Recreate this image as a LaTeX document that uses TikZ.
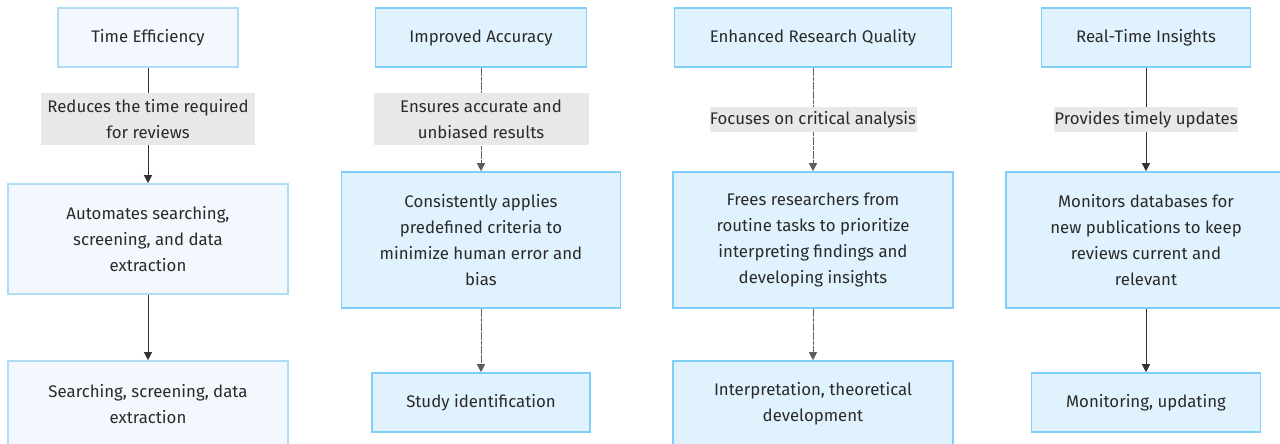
\documentclass[tikz,border=0pt]{standalone}
\usepackage{fontspec}
\setmainfont{Fira Sans}
\usetikzlibrary{arrows.meta}
\definecolor{txt}{HTML}{2A2A2A}
\definecolor{bfillA}{HTML}{F3F7FE}
\definecolor{bdrawA}{HTML}{B0DCF5}
\definecolor{bfillB}{HTML}{E0F2FD}
\definecolor{bdrawB}{HTML}{80CFF8}
\definecolor{lblbg}{HTML}{E8E8E8}
\definecolor{edgec}{HTML}{333333}
\tikzset{
  boxa/.style={draw=bdrawA, fill=bfillA, line width=1.6pt, align=center, inner sep=0pt, text=txt},
  boxb/.style={draw=bdrawB, fill=bfillB, line width=1.6pt, align=center, inner sep=0pt, text=txt},
  lbl/.style={fill=lblbg, align=center, inner sep=0pt, text=txt},
  conn/.style={draw=edgec, line width=1pt, -{Triangle[width=8pt,length=8pt]}},
  connd/.style={draw=edgec!80, line width=1pt, dash pattern=on 4pt off 0.6pt, -{Triangle[width=8pt,length=8pt]}},
}
\begin{document}
\begin{tikzpicture}[x=1pt,y=-1pt, font=\fontsize{16.8}{26}\selectfont]
\useasboundingbox (0,0) rectangle (1280,444);
\fill[white] (0,0) rectangle (1280,444);
% column 1
\node[boxa, minimum width=180pt, minimum height=59pt] (t1) at (148,37.5) {Time Efficiency};
\node[boxa, minimum width=280pt, minimum height=110pt] (m1) at (148,239) {Automates searching,\\screening, and data\\extraction};
\node[boxa, minimum width=280pt, minimum height=86pt] (b1) at (148,404) {Searching, screening, data\\extraction};
% column 2
\node[boxb, minimum width=211pt, minimum height=59pt] (t2) at (481,37.5) {Improved Accuracy};
\node[boxb, minimum width=279pt, minimum height=136pt] (m2) at (481,240) {Consistently applies\\predefined criteria to\\minimize human error and\\bias};
\node[boxb, minimum width=218pt, minimum height=59pt] (b2) at (481,402.5) {Study identification};
% column 3
\node[boxb, minimum width=277pt, minimum height=59pt] (t3) at (813,37.5) {Enhanced Research Quality};
\node[boxb, minimum width=280pt, minimum height=136pt] (m3) at (813,240) {Frees researchers from\\routine tasks to prioritize\\interpreting findings and\\developing insights};
\node[boxb, minimum width=280pt, minimum height=86pt] (b3) at (813,404) {Interpretation, theoretical\\development};
% column 4
\node[boxb, minimum width=209pt, minimum height=59pt] (t4) at (1146,37.5) {Real-Time Insights};
\node[boxb, minimum width=280pt, minimum height=136pt] (m4) at (1146,240) {Monitors databases for\\new publications to keep\\reviews current and\\relevant};
\node[boxb, minimum width=229pt, minimum height=59pt] (b4) at (1146,402.5) {Monitoring, updating};
% connectors
\draw[conn] (t1) -- (m1);
\draw[conn] (m1) -- (b1);
\draw[connd] (t2) -- (m2);
\draw[connd] (m2) -- (b2);
\draw[connd] (t3) -- (m3);
\draw[connd] (m3) -- (b3);
\draw[conn] (t4) -- (m4);
\draw[conn] (m4) -- (b4);
% edge labels
\node[lbl, minimum width=214pt, minimum height=52pt] (l1) at (148,119) {Reduces the time required\\for reviews};
\node[lbl, minimum width=215pt, minimum height=52pt] (l2) at (481,119) {Ensures accurate and\\unbiased results};
\node[lbl, minimum width=207pt, minimum height=25pt] (l3) at (813,119.5) {Focuses on critical analysis};
\node[lbl, minimum width=183pt, minimum height=25pt] (l4) at (1146,119.5) {Provides timely updates};
\end{tikzpicture}
\end{document}
